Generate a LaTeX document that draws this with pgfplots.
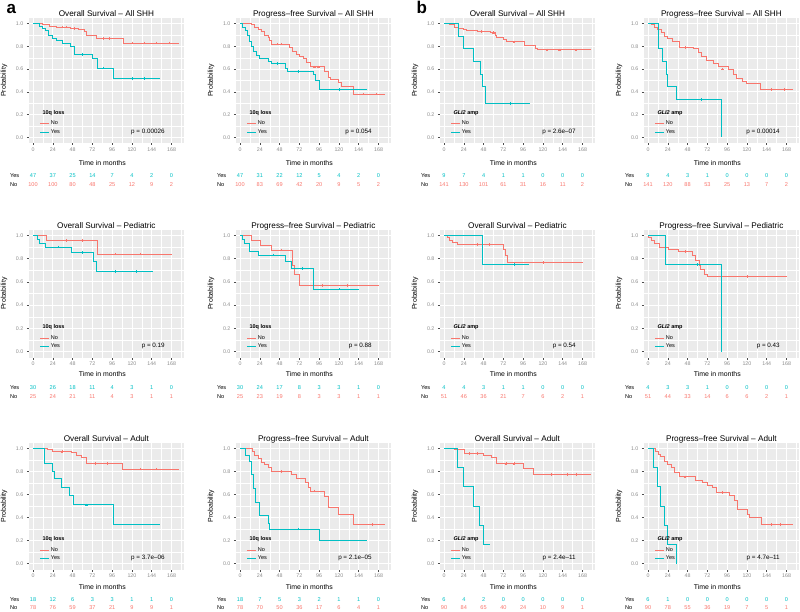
\documentclass[border=0pt]{standalone}
\usepackage{fontspec}
\setmainfont{Liberation Sans}
\usepackage{pgfplots}
\pgfplotsset{compat=1.18}
\definecolor{kmred}{RGB}{248,118,109}
\definecolor{kmcyan}{RGB}{0,191,196}
\definecolor{panel}{HTML}{EBEBEB}
\definecolor{tickc}{HTML}{8C8C8C}

\pgfplotsset{km/.style={
  scale only axis, width=155pt,
  xmin=-5, xmax=183, ymin=-0.05, ymax=1.05,
  axis background/.style={fill=panel},
  axis line style={draw=none},
  xtick={0,24,48,72,96,120,144,168}, ytick={0,0.2,0.4,0.6,0.8,1},
  minor xtick={12,36,60,84,108,132,156,180}, minor ytick={0.1,0.3,0.5,0.7,0.9},
  grid=both,
  major grid style={white, line width=0.75pt},
  minor grid style={white, line width=0.35pt},
  tick align=outside, xtick pos=left, ytick pos=left,
  major tick length=2pt, minor tick length=0pt,
  tick style={black!70, line width=0.6pt},
  /pgf/number format/assume math mode=true,
  ticklabel style={font=\fontsize{5.3}{6}\selectfont, text=tickc},
  yticklabel style={/pgf/number format/.cd, fixed, fixed zerofill, precision=1},
  xticklabel style={yshift=1pt},
  clip=false,
  ylabel={Probability},
  ylabel style={font=\fontsize{7}{8}\selectfont, at={(axis description cs:-0.16,0.5)}, anchor=center},
  legend style={at={(rel axis cs:0.05,0.04)}, anchor=south west, draw=none, fill=none,
    font=\fontsize{5.5}{6}\selectfont, row sep=1.2pt, nodes={inner sep=1pt}},
  legend cell align=left,
  legend image code/.code={\draw[line width=1pt] (0pt,0pt) -- (9pt,0pt);},
},
curveR/.style={kmred, line width=0.9pt, const plot},
curveC/.style={kmcyan, line width=0.9pt, const plot},
censR/.style={kmred, only marks, mark=+, mark size=1.3pt, line width=0.45pt, forget plot},
censC/.style={kmcyan, only marks, mark=+, mark size=1.3pt, line width=0.45pt, forget plot}}
\tikzset{rk/.style={font=\fontsize{5.6}{6}\selectfont, anchor=center, inner sep=0pt}}
\newcommand\riskrow[9]{%
  \node[rk,#1] at (axis cs:0,-0.05) {#2};
  \node[rk,#1] at (axis cs:24,-0.05) {#3};
  \node[rk,#1] at (axis cs:48,-0.05) {#4};
  \node[rk,#1] at (axis cs:72,-0.05) {#5};
  \node[rk,#1] at (axis cs:96,-0.05) {#6};
  \node[rk,#1] at (axis cs:120,-0.05) {#7};
  \node[rk,#1] at (axis cs:144,-0.05) {#8};
  \node[rk,#1] at (axis cs:168,-0.05) {#9};}
\newcommand\yes[8]{\node[rk,anchor=west,yshift=\yeso] at (axis cs:-28,-0.05) {Yes};
  \riskrow{text=kmcyan,yshift=\yeso}{#1}{#2}{#3}{#4}{#5}{#6}{#7}{#8}}
\newcommand\no[8]{\node[rk,anchor=west,yshift=\noo] at (axis cs:-28,-0.05) {No};
  \riskrow{text=kmred,yshift=\noo}{#1}{#2}{#3}{#4}{#5}{#6}{#7}{#8}}
\newcommand\extras[3]{%
  \node[anchor=base, font=\fontsize{8.2}{9}\selectfont, yshift=1pt] at (rel axis cs:0.5,1) {#3};
  \node[font=\fontsize{6.9}{8}\selectfont, yshift=\xlo] at (axis cs:84,-0.05) {Time in months};
  \node[anchor=west, font=\bfseries\fontsize{5.5}{6}\selectfont] at (rel axis cs:0.065,0.24) {#1};
  \node[anchor=east, font=\fontsize{6.3}{7}\selectfont] at (axis cs:164,0.05) {#2};}
\newcommand\tenq{10q loss}
\newcommand\gli{\textit{GLI2} amp}

\begin{document}
\begin{tikzpicture}
\useasboundingbox (0,0) rectangle (800pt,-612pt);
\node[font=\bfseries\fontsize{17}{17}\selectfont, anchor=base west] at (3pt,-14pt) {a};
\node[font=\bfseries\fontsize{17}{17}\selectfont, anchor=base west] at (413pt,-14pt) {b};

% ================= ROW 1 =================
\def\xlo{-20pt}\def\yeso{-33pt}\def\noo{-41.5pt}
\begin{axis}[km, height=125pt, at={(28.9pt,-18pt)}, anchor=north west]
\addplot[censR] coordinates {(35,0.97)(40,0.97)(50,0.96)(85,0.87)(92,0.87)(120,0.83)(135,0.83)(150,0.83)(165,0.83)};
\addplot[censC] coordinates {(60,0.73)(85,0.61)(120,0.52)(135,0.52)};
\addplot[curveR] coordinates {(0,1)(12,0.99)(20,0.98)(28,0.97)(45,0.96)(55,0.95)(62,0.93)(65,0.90)(77,0.87)(110,0.83)(177,0.83)};
\addlegendentry{No}
\addplot[curveC] coordinates {(0,1)(8,0.98)(12,0.96)(15,0.94)(19,0.90)(24,0.87)(28,0.85)(36,0.83)(46,0.80)(50,0.73)(72,0.69)(78,0.61)(98,0.52)(154,0.52)};
\addlegendentry{Yes}
\extras{\tenq}{p = 0.00026}{Overall Survival – All SHH}
\yes{47}{37}{25}{14}{7}{4}{2}{0}
\no{100}{100}{80}{48}{25}{12}{9}{2}
\end{axis}

\begin{axis}[km, height=125pt, at={(235.9pt,-18pt)}, anchor=north west]
\addplot[censR] coordinates {(45,0.82)(50,0.82)(90,0.62)(95,0.62)(150,0.38)(165,0.38)};
\addplot[censC] coordinates {(45,0.65)(70,0.58)(120,0.42)};
\addplot[curveR] coordinates {(0,1)(14,0.99)(18,0.97)(22,0.95)(26,0.93)(30,0.90)(34,0.88)(36,0.85)(38,0.82)(60,0.79)(64,0.76)(68,0.73)(72,0.71)(77,0.69)(81,0.66)(85,0.62)(103,0.58)(107,0.53)(110,0.51)(119,0.48)(123,0.45)(137,0.38)(176,0.38)};
\addlegendentry{No}
\addplot[curveC] coordinates {(0,1)(3,0.97)(6,0.94)(9,0.90)(12,0.84)(14,0.80)(16,0.76)(20,0.72)(24,0.69)(34,0.67)(38,0.65)(55,0.61)(57,0.58)(89,0.55)(91,0.50)(96,0.42)(154,0.42)};
\addlegendentry{Yes}
\extras{\tenq}{p = 0.054}{Progress–free Survival – All SHH}
\yes{47}{31}{22}{12}{5}{4}{2}{0}
\no{100}{83}{69}{42}{20}{9}{5}{2}
\end{axis}

\begin{axis}[km, height=125pt, at={(439.9pt,-18pt)}, anchor=north west]
\addplot[censR] coordinates {(45,0.93)(60,0.92)(85,0.84)(125,0.77)(140,0.77)(160,0.77)};
\addplot[censC] coordinates {(80,0.296)};
\addplot[curveR] coordinates {(0,1)(7,0.99)(13,0.97)(17,0.96)(23,0.95)(27,0.94)(40,0.93)(56,0.92)(62,0.90)(64,0.88)(72,0.86)(76,0.84)(97,0.81)(111,0.78)(113,0.77)(178,0.77)};
\addlegendentry{No}
\addplot[curveC] coordinates {(0,1)(17,0.889)(24,0.778)(36,0.667)(44,0.556)(46.5,0.444)(50,0.296)(104,0.296)};
\addlegendentry{Yes}
\extras{\gli}{p = 2.6e–07}{Overall Survival – All SHH}
\yes{9}{7}{4}{1}{1}{0}{0}{0}
\no{141}{130}{101}{61}{31}{16}{11}{2}
\end{axis}

\begin{axis}[km, height=125pt, at={(643.9pt,-18pt)}, anchor=north west]
\addplot[censR] coordinates {(45,0.79)(90,0.60)(150,0.42)(165,0.42)};
\addplot[censC] coordinates {(65,0.333)};
\addplot[curveR] coordinates {(0,1)(4,0.99)(8,0.97)(12,0.95)(16,0.92)(20,0.89)(24,0.87)(30,0.84)(38,0.79)(55,0.78)(61,0.75)(65,0.71)(71,0.68)(79,0.65)(85,0.62)(97,0.60)(103,0.55)(107,0.52)(115,0.49)(119,0.47)(136,0.42)(176,0.42)};
\addlegendentry{No}
\addplot[curveC] coordinates {(0,1)(13,0.778)(18,0.667)(22,0.556)(24,0.444)(34,0.333)(89,0)(89,0)};
\addlegendentry{Yes}
\extras{\gli}{p = 0.00014}{Progress–free Survival – All SHH}
\yes{9}{4}{3}{1}{0}{0}{0}{0}
\no{141}{120}{88}{53}{25}{13}{7}{2}
\end{axis}

% ================= ROW 2 =================
\def\xlo{-16.5pt}\def\yeso{-30.5pt}\def\noo{-39.5pt}
\begin{axis}[km, height=128pt, at={(28.9pt,-229.5pt)}, anchor=north west]
\addplot[censR] coordinates {(40,0.955)(60,0.955)(100,0.838)(130,0.838)};
\addplot[censC] coordinates {(30,0.898)(60,0.852)(100,0.688)(125,0.688)};
\addplot[curveR] coordinates {(0,1)(16.5,0.955)(78,0.838)(168,0.838)};
\addlegendentry{No}
\addplot[curveC] coordinates {(0,1)(5,0.967)(8,0.933)(15,0.898)(47,0.852)(73,0.773)(77,0.688)(145,0.688)};
\addlegendentry{Yes}
\extras{\tenq}{p = 0.19}{Overall Survival – Pediatric}
\yes{30}{26}{18}{11}{4}{3}{1}{0}
\no{25}{24}{21}{11}{4}{3}{1}{1}
\end{axis}

\begin{axis}[km, height=128pt, at={(235.9pt,-229.5pt)}, anchor=north west]
\addplot[censR] coordinates {(50,0.873)(100,0.567)(130,0.567)};
\addplot[censC] coordinates {(40,0.83)(75,0.717)(120,0.538)};
\addplot[curveR] coordinates {(0,1)(13.5,0.952)(25,0.915)(38.6,0.873)(63,0.745)(66,0.666)(72,0.567)(168,0.567)};
\addlegendentry{No}
\addplot[curveC] coordinates {(0,1)(3,0.967)(5,0.933)(11.6,0.858)(22,0.83)(55,0.773)(62.5,0.717)(89.6,0.538)(144,0.538)};
\addlegendentry{Yes}
\extras{\tenq}{p = 0.88}{Progress–free Survival – Pediatric}
\yes{30}{24}{17}{8}{3}{3}{1}{0}
\no{25}{23}{19}{8}{3}{3}{1}{1}
\end{axis}

\begin{axis}[km, height=128pt, at={(439.9pt,-229.5pt)}, anchor=north west]
\addplot[censR] coordinates {(40,0.92)(55,0.92)(120,0.768)};
\addplot[censC] coordinates {(85,0.75)};
\addplot[curveR] coordinates {(0,1)(4,0.98)(6.6,0.96)(10,0.94)(16,0.92)(72,0.878)(75,0.83)(77,0.768)(168,0.768)};
\addlegendentry{No}
\addplot[curveC] coordinates {(0,1)(47,0.75)(103,0.75)};
\addlegendentry{Yes}
\extras{\gli}{p = 0.54}{Overall Survival – Pediatric}
\yes{4}{4}{3}{1}{1}{0}{0}{0}
\no{51}{46}{36}{21}{7}{6}{2}{1}
\end{axis}

\begin{axis}[km, height=128pt, at={(643.9pt,-229.5pt)}, anchor=north west]
\addplot[censR] coordinates {(45,0.86)(120,0.646)};
\addplot[censC] coordinates {(60,0.75)};
\addplot[curveR] coordinates {(0,1)(1,0.98)(4,0.96)(8,0.93)(14,0.90)(25,0.88)(37,0.86)(54,0.83)(58,0.78)(62,0.745)(64,0.71)(68,0.668)(72,0.646)(168,0.646)};
\addlegendentry{No}
\addplot[curveC] coordinates {(0,1)(20.6,0.75)(89.5,0)(89.5,0)};
\addlegendentry{Yes}
\extras{\gli}{p = 0.43}{Progress–free Survival – Pediatric}
\yes{4}{3}{3}{1}{0}{0}{0}{0}
\no{51}{44}{33}{14}{6}{6}{2}{1}
\end{axis}

% ================= ROW 3 =================
\def\xlo{-17.5pt}\def\yeso{-30.5pt}\def\noo{-38.5pt}
\begin{axis}[km, height=127pt, at={(28.9pt,-442.5pt)}, anchor=north west]
\addplot[censR] coordinates {(35,0.97)(75,0.87)(90,0.87)(130,0.82)(150,0.82)};
\addplot[censC] coordinates {(65,0.51)};
\addplot[curveR] coordinates {(0,1)(18,0.99)(24,0.97)(46.5,0.96)(53,0.94)(59,0.92)(65,0.87)(109,0.82)(177,0.82)};
\addlegendentry{No}
\addplot[curveC] coordinates {(0,1)(14,0.866)(24,0.80)(26,0.736)(34,0.665)(44.5,0.59)(48.6,0.51)(98,0.34)(154,0.34)};
\addlegendentry{Yes}
\extras{\tenq}{p = 3.7e–06}{Overall Survival – Adult}
\yes{18}{12}{6}{3}{3}{1}{1}{0}
\no{78}{76}{59}{37}{21}{9}{9}{1}
\end{axis}

\begin{axis}[km, height=127pt, at={(235.9pt,-442.5pt)}, anchor=north west]
\addplot[censR] coordinates {(50,0.80)(90,0.63)(160,0.34)};
\addplot[censC] coordinates {(70,0.30)};
\addplot[curveR] coordinates {(0,1)(15,0.97)(18,0.94)(22,0.91)(26,0.88)(30,0.86)(34,0.83)(38.5,0.80)(62,0.77)(69,0.74)(79,0.70)(83,0.66)(85,0.63)(103,0.58)(107,0.49)(119,0.43)(138,0.34)(176,0.34)};
\addlegendentry{No}
\addplot[curveC] coordinates {(0,1)(7,0.94)(11,0.89)(14,0.77)(16,0.65)(19,0.53)(23.5,0.42)(34,0.35)(35.6,0.30)(96,0.20)(154,0.20)};
\addlegendentry{Yes}
\extras{\tenq}{p = 2.1e–05}{Progress–free Survival – Adult}
\yes{18}{7}{5}{3}{2}{1}{1}{0}
\no{78}{70}{50}{36}{17}{6}{4}{1}
\end{axis}

\begin{axis}[km, height=127pt, at={(439.9pt,-442.5pt)}, anchor=north west]
\addplot[censR] coordinates {(30,0.957)(40,0.957)(75,0.866)(85,0.866)(130,0.775)(150,0.775)(160,0.775)};
\addplot[curveR] coordinates {(0,1)(13,0.99)(25,0.957)(48,0.94)(58,0.92)(64,0.866)(96,0.823)(109,0.775)(178,0.775)};
\addlegendentry{No}
\addplot[curveC] coordinates {(0,1)(16,0.833)(23,0.667)(35.5,0.5)(43,0.333)(48,0.167)(56,0.167)};
\addlegendentry{Yes}
\extras{\gli}{p = 2.4e–11}{Overall Survival – Adult}
\yes{6}{4}{2}{0}{0}{0}{0}{0}
\no{90}{84}{65}{40}{24}{10}{9}{1}
\end{axis}

\begin{axis}[km, height=127pt, at={(643.9pt,-442.5pt)}, anchor=north west]
\addplot[censR] coordinates {(45,0.752)(90,0.618)(150,0.339)(160,0.339)};
\addplot[curveR] coordinates {(0,1)(9,0.97)(13,0.95)(15.5,0.93)(19.5,0.89)(23.6,0.86)(28,0.83)(32,0.79)(38,0.752)(58,0.72)(66,0.70)(72,0.68)(78.5,0.66)(83,0.618)(99,0.59)(105,0.55)(109,0.467)(121,0.43)(123,0.405)(137.5,0.339)(176,0.339)};
\addlegendentry{No}
\addplot[curveC] coordinates {(0,1)(7,0.833)(11,0.667)(15,0.5)(19.5,0.333)(23.6,0.167)(34,0)(34,0)};
\addlegendentry{Yes}
\extras{\gli}{p = 4.7e–11}{Progress–free Survival – Adult}
\yes{6}{1}{0}{0}{0}{0}{0}{0}
\no{90}{78}{55}{36}{19}{7}{5}{1}
\end{axis}
\end{tikzpicture}
\end{document}
